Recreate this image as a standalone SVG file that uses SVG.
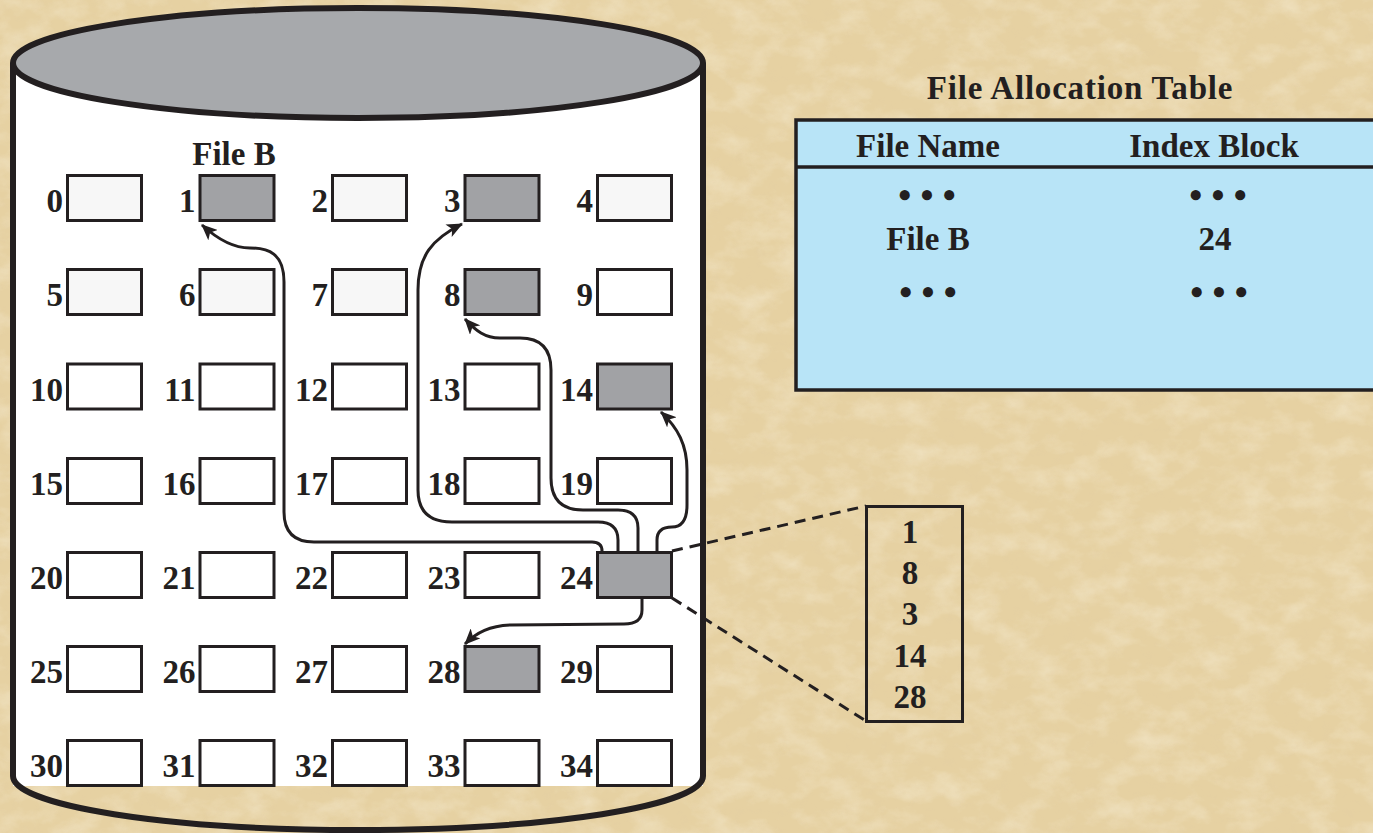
<svg xmlns="http://www.w3.org/2000/svg" width="1373" height="833" viewBox="0 0 1373 833">
<defs>
<style>
text{font-family:"Liberation Serif","Times New Roman",serif;font-weight:bold;fill:#231f20;}
.lbl{font-size:33px;text-anchor:end;}
.ctr{font-size:33px;text-anchor:middle;}
.blk{stroke:#231f20;stroke-width:3;}
.lt{fill:#f7f7f7;}
.wh{fill:#ffffff;}
.gr{fill:#a1a2a5;}
.conn{fill:none;stroke:#231f20;stroke-width:3;}
.dash{fill:none;stroke:#231f20;stroke-width:3;stroke-dasharray:11 7;}
.dots{font-size:37px;text-anchor:middle;}
</style>
<marker id="ah" viewBox="0 0 16 14" refX="15" refY="7" markerWidth="16" markerHeight="14" markerUnits="userSpaceOnUse" orient="auto">
<path d="M0,0 L16,7 L0,14 L4,7 Z" fill="#231f20"/>
</marker>
<filter id="paper" x="0" y="0" width="100%" height="100%">
<feTurbulence type="fractalNoise" baseFrequency="0.03 0.045" numOctaves="4" seed="7" result="n"/>
<feColorMatrix in="n" type="matrix" values="0 0 0 0 0.98  0 0 0 0 0.94  0 0 0 0 0.82  1.2 0 0 0 -0.5"/>
</filter>
<filter id="paper2" x="0" y="0" width="100%" height="100%">
<feTurbulence type="fractalNoise" baseFrequency="0.09 0.12" numOctaves="3" seed="2" result="n"/>
<feColorMatrix in="n" type="matrix" values="0 0 0 0 0.75  0 0 0 0 0.6  0 0 0 0 0.38  0 -1.4 0 0 0.65"/>
</filter>
</defs>

<g id="background">
<rect x="0" y="0" width="1373" height="833" fill="#e6d1a2"/>
<rect x="0" y="0" width="1373" height="833" filter="url(#paper)" opacity="0.6"/>
<rect x="0" y="0" width="1373" height="833" filter="url(#paper2)" opacity="0.3"/>
</g>

<g id="disk">
<rect x="13" y="63" width="690" height="723" fill="#ffffff"/>
<path d="M13,63 L13,776 A345 54 0 0 0 703,776 L703,63" fill="none" stroke="#231f20" stroke-width="6"/>
<ellipse cx="358" cy="63" rx="345" ry="55" fill="#a7a9ac" stroke="#231f20" stroke-width="6"/>
<text class="ctr" x="234" y="165">File B</text>
</g>

<g id="blocks">
<g id="b0"><rect class="blk lt" x="67.5" y="175.5" width="74" height="45"/><text class="lbl" x="63" y="212">0</text></g>
<g id="b1"><rect class="blk gr" x="200" y="175.5" width="74" height="45"/><text class="lbl" x="195.5" y="212">1</text></g>
<g id="b2"><rect class="blk lt" x="332.5" y="175.5" width="74" height="45"/><text class="lbl" x="328" y="212">2</text></g>
<g id="b3"><rect class="blk gr" x="465" y="175.5" width="74" height="45"/><text class="lbl" x="460.5" y="212">3</text></g>
<g id="b4"><rect class="blk lt" x="597.5" y="175.5" width="74" height="45"/><text class="lbl" x="593" y="212">4</text></g>

<g id="b5"><rect class="blk lt" x="67.5" y="269.5" width="74" height="45"/><text class="lbl" x="63" y="306">5</text></g>
<g id="b6"><rect class="blk lt" x="200" y="269.5" width="74" height="45"/><text class="lbl" x="195.5" y="306">6</text></g>
<g id="b7"><rect class="blk lt" x="332.5" y="269.5" width="74" height="45"/><text class="lbl" x="328" y="306">7</text></g>
<g id="b8"><rect class="blk gr" x="465" y="269.5" width="74" height="45"/><text class="lbl" x="460.5" y="306">8</text></g>
<g id="b9"><rect class="blk wh" x="597.5" y="269.5" width="74" height="45"/><text class="lbl" x="593" y="306">9</text></g>

<g id="b10"><rect class="blk wh" x="67.5" y="364" width="74" height="45"/><text class="lbl" x="63" y="400.5">10</text></g>
<g id="b11"><rect class="blk wh" x="200" y="364" width="74" height="45"/><text class="lbl" x="195.5" y="400.5">11</text></g>
<g id="b12"><rect class="blk wh" x="332.5" y="364" width="74" height="45"/><text class="lbl" x="328" y="400.5">12</text></g>
<g id="b13"><rect class="blk wh" x="465" y="364" width="74" height="45"/><text class="lbl" x="460.5" y="400.5">13</text></g>
<g id="b14"><rect class="blk gr" x="597.5" y="364" width="74" height="45"/><text class="lbl" x="593" y="400.5">14</text></g>

<g id="b15"><rect class="blk wh" x="67.5" y="458.5" width="74" height="45"/><text class="lbl" x="63" y="495">15</text></g>
<g id="b16"><rect class="blk wh" x="200" y="458.5" width="74" height="45"/><text class="lbl" x="195.5" y="495">16</text></g>
<g id="b17"><rect class="blk wh" x="332.5" y="458.5" width="74" height="45"/><text class="lbl" x="328" y="495">17</text></g>
<g id="b18"><rect class="blk wh" x="465" y="458.5" width="74" height="45"/><text class="lbl" x="460.5" y="495">18</text></g>
<g id="b19"><rect class="blk wh" x="597.5" y="458.5" width="74" height="45"/><text class="lbl" x="593" y="495">19</text></g>

<g id="b20"><rect class="blk wh" x="67.5" y="552.5" width="74" height="45"/><text class="lbl" x="63" y="589">20</text></g>
<g id="b21"><rect class="blk wh" x="200" y="552.5" width="74" height="45"/><text class="lbl" x="195.5" y="589">21</text></g>
<g id="b22"><rect class="blk wh" x="332.5" y="552.5" width="74" height="45"/><text class="lbl" x="328" y="589">22</text></g>
<g id="b23"><rect class="blk wh" x="465" y="552.5" width="74" height="45"/><text class="lbl" x="460.5" y="589">23</text></g>
<g id="b24"><rect class="blk gr" x="597.5" y="552.5" width="74" height="45"/><text class="lbl" x="593" y="589">24</text></g>

<g id="b25"><rect class="blk wh" x="67.5" y="646.5" width="74" height="45"/><text class="lbl" x="63" y="683">25</text></g>
<g id="b26"><rect class="blk wh" x="200" y="646.5" width="74" height="45"/><text class="lbl" x="195.5" y="683">26</text></g>
<g id="b27"><rect class="blk wh" x="332.5" y="646.5" width="74" height="45"/><text class="lbl" x="328" y="683">27</text></g>
<g id="b28"><rect class="blk gr" x="465" y="646.5" width="74" height="45"/><text class="lbl" x="460.5" y="683">28</text></g>
<g id="b29"><rect class="blk wh" x="597.5" y="646.5" width="74" height="45"/><text class="lbl" x="593" y="683">29</text></g>

<g id="b30"><rect class="blk wh" x="67.5" y="740.5" width="74" height="45"/><text class="lbl" x="63" y="777">30</text></g>
<g id="b31"><rect class="blk wh" x="200" y="740.5" width="74" height="45"/><text class="lbl" x="195.5" y="777">31</text></g>
<g id="b32"><rect class="blk wh" x="332.5" y="740.5" width="74" height="45"/><text class="lbl" x="328" y="777">32</text></g>
<g id="b33"><rect class="blk wh" x="465" y="740.5" width="74" height="45"/><text class="lbl" x="460.5" y="777">33</text></g>
<g id="b34"><rect class="blk wh" x="597.5" y="740.5" width="74" height="45"/><text class="lbl" x="593" y="777">34</text></g>
</g>

<g id="connectors">
<path class="conn" marker-end="url(#ah)" d="M602,551 Q602,542 592,542 L314,542 Q284,542 284,512 L284,282 C284,253 268,248 250,248 C230,248 214,236 202,225"/>
<path class="conn" marker-end="url(#ah)" d="M618,551 L618,540 Q618,522 598,522 L452,522 Q418,522 418,490 L418,290 C418,256 432,239 462,224"/>
<path class="conn" marker-end="url(#ah)" d="M638,551 L638,528 Q638,510 618,510 L583,510 Q551,510 551,478 L551,370 Q551,338 520,338 L500,338 C485,338 476,331 465,319"/>
<path class="conn" marker-end="url(#ah)" d="M657,551 L657,540 Q657,527 672,527 Q687,527 687,505 L687,470 C687,445 678,428 661,412"/>
<path class="conn" marker-end="url(#ah)" d="M642,598 L642,610 Q642,624 624,624 L510,625 C490,626 477,632 465,644"/>
<path class="dash" d="M672,551 L866,506"/>
<path class="dash" d="M672,598 L866,721"/>
</g>

<g id="index-block">
<rect x="866.5" y="506.5" width="96" height="215" fill="none" stroke="#231f20" stroke-width="3"/>
<text class="ctr" x="910" y="543">1</text>
<text class="ctr" x="910" y="584">8</text>
<text class="ctr" x="910" y="625">3</text>
<text class="ctr" x="910" y="667">14</text>
<text class="ctr" x="910" y="708">28</text>
</g>

<g id="fat">
<text class="ctr" x="1080" y="99" letter-spacing="0.8">File Allocation Table</text>
<rect x="796" y="120" width="600" height="270" fill="#b8e4f7" stroke="#231f20" stroke-width="3.5"/>
<line x1="796" y1="167" x2="1373" y2="167" stroke="#231f20" stroke-width="3.5"/>
<text class="ctr" x="928" y="157">File Name</text>
<text class="ctr" x="1214" y="157">Index Block</text>
<text class="dots" x="927" y="208">• • •</text>
<text class="dots" x="1218" y="208">• • •</text>
<text class="ctr" x="928" y="250">File B</text>
<text class="ctr" x="1215" y="250">24</text>
<text class="dots" x="928" y="305">• • •</text>
<text class="dots" x="1219" y="305">• • •</text>
</g>
</svg>
